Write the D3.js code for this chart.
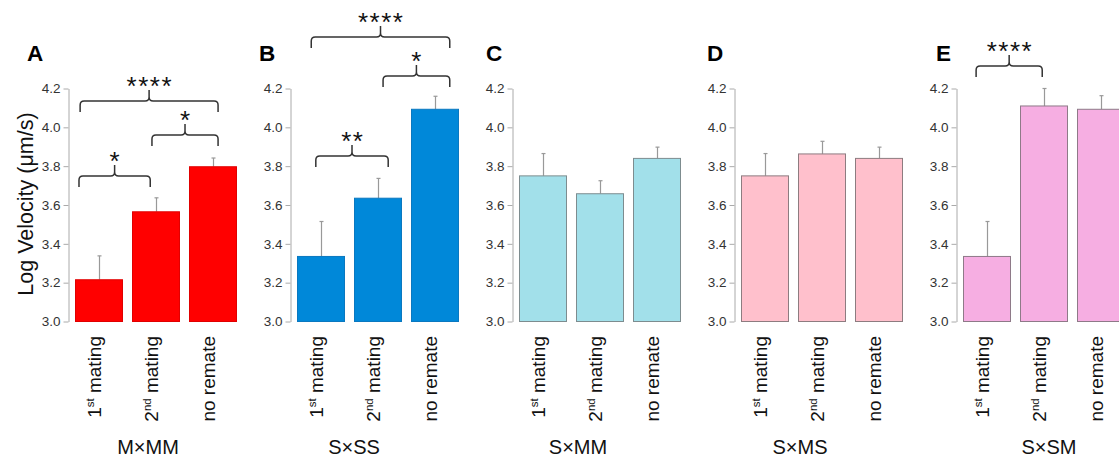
<!DOCTYPE html>
<html><head><meta charset="utf-8">
<script src="https://cdnjs.cloudflare.com/ajax/libs/d3/7.8.5/d3.min.js"></script>
<style>
body{margin:0;background:#fff;}
svg{display:block;font-family:"Liberation Sans",Arial,sans-serif;}
.tick text{font-family:"Liberation Sans Narrow","Arial Narrow","Liberation Sans",sans-serif;}
</style>
</head><body>
<svg id="chart" width="1119" height="459"></svg>
<script>
// ---- data ----
const categories = ["1st mating", "2nd mating", "no remate"];
const panelLetters = ["A", "B", "C", "D", "E"];
const groupLabels = ["M×MM", "S×SS", "S×MM", "S×MS", "S×SM"];
const yTicks = [3.0, 3.2, 3.4, 3.6, 3.8, 4.0, 4.2];
const yTickLabels = ["3.0", "3.2", "3.4", "3.6", "3.8", "4.0", "4.2"];

const meanMxMM = [3.215, 3.565, 3.797];
const errMxMM  = [3.338, 3.637, 3.842];
const meanSxSS = [3.335, 3.635, 4.093];
const errSxSS  = [3.515, 3.737, 4.160];
const meanSxMM = [3.750, 3.658, 3.840];
const errSxMM  = [3.865, 3.725, 3.898];
const meanSxMS = [3.750, 3.863, 3.840];
const errSxMS  = [3.865, 3.928, 3.898];
const meanSxSM = [3.335, 4.110, 4.093];
const errSxSM  = [3.515, 4.200, 4.163];

// significance brackets: [fromPos, toPos, level, label] (positions in bar-step units)
const sigMxMM = [[0.09, 2.51, 4.136, "****"], [1.35, 2.51, 3.960, "*"], [0.07, 1.32, 3.749, "*"]];
const sigSxSS = [[0.25, 2.68, 4.465, "****"], [1.51, 2.68, 4.264, "*"], [0.33, 1.60, 3.852, "**"]];
const sigSxMM = [];
const sigSxMS = [];
const sigSxSM = [[0.23, 1.39, 4.316, "****"]];

// ---- styling / layout ----
const fills   = ["#ff0000", "#0088d9", "#a2e0ea", "#ffc0cc", "#f6aee2"];
const strokes = ["#e00000", "#0a78c0", "#7d8c8f", "#8d7c80", "#8e7a88"];
const axisX   = [68, 290, 512, 734, 956];
const letterX = [27, 259, 486, 707, 936];
const groupX  = [148, 354, 578, 800, 1049];

const panels = [
  {mean: meanMxMM, err: errMxMM, sig: sigMxMM},
  {mean: meanSxSS, err: errSxSS, sig: sigSxSS},
  {mean: meanSxMM, err: errSxMM, sig: sigSxMM},
  {mean: meanSxMS, err: errSxMS, sig: sigSxMS},
  {mean: meanSxSM, err: errSxSM, sig: sigSxSM}
];

const svg = d3.select("#chart");
const y = d3.scaleLinear().domain([3.0, 4.2]).range([321.5, 88.5]);

// y title
svg.append("text")
  .attr("transform", "translate(33,204) rotate(-90)")
  .attr("text-anchor", "middle")
  .attr("font-size", 21.5)
  .attr("fill", "#111")
  .text("Log Velocity (μm/s)");

panels.forEach((p, i) => {
  const g = svg.append("g");
  const ax = axisX[i];
  const x = d3.scaleBand().domain(categories)
    .range([ax + 7, ax + 7 + 161]).paddingInner(10 / 57).paddingOuter(0);
  const step = x.step();
  const x0 = x.range()[0];

  // axis
  const axis = d3.axisLeft(y).tickValues(yTicks)
    .tickFormat((d, k) => yTickLabels[k]).tickSize(5).tickSizeOuter(0).tickPadding(3);
  const ag = g.append("g").attr("transform", `translate(${ax + 0.5},0)`).call(axis);
  ag.select(".domain").attr("stroke", "#aaa");
  ag.selectAll(".tick line").attr("stroke", "#aaa");
  ag.selectAll(".tick text").attr("fill", "#333").attr("font-size", 13.5);

  // error bars
  categories.forEach((c, k) => {
    const cx = Math.round(x(c) + x.bandwidth() / 2) + 0.5;
    g.append("line").attr("x1", cx).attr("x2", cx)
      .attr("y1", y(p.mean[k])).attr("y2", y(p.err[k]))
      .attr("stroke", "#999").attr("stroke-width", 1.2);
    g.append("line").attr("x1", cx - 2).attr("x2", cx + 2)
      .attr("y1", y(p.err[k])).attr("y2", y(p.err[k]))
      .attr("stroke", "#999").attr("stroke-width", 1.2);
  });

  // bars
  g.selectAll("rect.bar").data(categories).enter().append("rect")
    .attr("x", d => x(d) + 0.5)
    .attr("y", (d, k) => y(p.mean[k]))
    .attr("width", x.bandwidth())
    .attr("height", (d, k) => y(3.0) - y(p.mean[k]))
    .attr("fill", fills[i])
    .attr("stroke", strokes[i]).attr("stroke-width", 1);

  // x labels
  categories.forEach((c, k) => {
    const cx = x(c) + x.bandwidth() / 2 + 2.5;
    const t = g.append("text")
      .attr("transform", `translate(${cx},336) rotate(-90)`)
      .attr("text-anchor", "end")
      .attr("font-size", 19)
      .attr("fill", "#111");
    const parts = c.match(/^(\d)(st|nd)( .*)$/);
    if (parts) {
      t.append("tspan").text(parts[1]);
      t.append("tspan").attr("font-size", 11.5).attr("dy", -7.5).text(parts[2]);
      t.append("tspan").attr("dy", 7.5).text(parts[3]);
    } else {
      t.text(c);
    }
  });

  // group label
  svg.append("text").attr("x", groupX[i]).attr("y", 454)
    .attr("text-anchor", "middle").attr("font-size", 20).attr("fill", "#111")
    .text(groupLabels[i]);

  // panel letter
  svg.append("text").attr("x", letterX[i]).attr("y", 61)
    .attr("font-size", 22.5).attr("font-weight", "bold").attr("fill", "#000")
    .text(panelLetters[i]);

  // brackets
  p.sig.forEach(s => {
    const x1 = x0 + s[0] * step, x2 = x0 + s[1] * step;
    const yy = y(s[2]);
    const xm = (x1 + x2) / 2;
    const r = 4, h = 11;
    const path = `M${x1},${yy + h} L${x1},${yy + r} Q${x1},${yy} ${x1 + r},${yy} L${xm - r},${yy} Q${xm},${yy} ${xm},${yy - r} L${xm},${yy - h}` +
      ` M${xm},${yy - r} Q${xm},${yy} ${xm + r},${yy} L${x2 - r},${yy} Q${x2},${yy} ${x2},${yy + r} L${x2},${yy + h}`;
    g.append("path").attr("d", path).attr("fill", "none")
      .attr("stroke", "#333").attr("stroke-width", 1.5);
    const ls = 1.5;
    g.append("text").attr("x", xm + ls / 2).attr("y", yy - 21 + 15)
      .attr("text-anchor", "middle").attr("font-size", 26)
      .attr("letter-spacing", ls).attr("fill", "#111")
      .text(s[3]);
  });
});
</script>
</body></html>
